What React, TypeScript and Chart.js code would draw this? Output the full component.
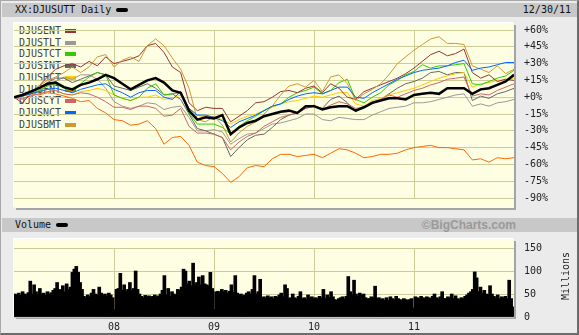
import React, { useEffect, useRef } from 'react';
import { Chart, registerables } from 'chart.js';

Chart.register(...registerables);

const FONT = '"DejaVu Sans Mono", monospace';

// ---------- axes ----------
const START_YEAR = 2007;
const END_YEAR = 2012;
const YEAR_TICKS = [2008, 2009, 2010, 2011];
const PCT_TICKS = [60, 45, 30, 15, 0, -15, -30, -45, -60, -75, -90];
const VOL_TICKS = [0, 50, 100, 150];

// ---------- series (percent change, one value per month, Jan 2007 .. Jan 2012) ----------
const DJUSUTT = [0, 2, 5, 8, 12, 13, 9, 7, 11, 13, 16, 20, 17, 12, 7, 11, 15, 17, 13, 6, 4, -12, -20, -18, -19, -16, -33, -27, -23, -21, -17, -15, -13, -12, -14, -8, -8, -11, -9, -8, -8, -12, -9, -5, -3, -1, -1, -2, 2, 3, 4, 3, 8, 8, 8, 3, 7, 8, 11, 14, 20];
const DJUSENT = [0, -5, 3, 10, 18, 25, 28, 30, 27, 32, 28, 36, 30, 32, 34, 37, 46, 48, 40, 27, 22, -5, -12, -9, -10, -10, -22, -17, -12, -5, -4, 0, 5, 6, 4, 8, 10, 4, 12, 8, 0, -2, 5, 8, 11, 14, 17, 21, 26, 32, 38, 41, 37, 39, 43, 22, 17, 20, 14, 16, 15];
const DJUSTLT = [0, -2, 1, 5, 10, 14, 18, 16, 20, 20, 16, 8, -4, -8, -10, -8, -5, -6, -11, -9, -8, -18, -30, -30, -29, -31, -42, -37, -33, -32, -28, -24, -23, -21, -19, -15, -15, -20, -21, -18, -19, -20, -20, -16, -13, -10, -9, -8, -5, -5, -4, -2, 0, 2, 3, -8, -6, -8, -5, -4, -2];
const DJUSTCT = [0, 1, 3, 6, 10, 12, 8, 4, 12, 18, 22, 20, 2, -1, -3, 0, 8, 12, 2, 3, 4, -14, -24, -24, -24, -27, -33, -26, -21, -17, -12, -8, -6, 0, 4, 6, 9, 3, 6, 13, 16, -2, -5, 0, 4, 11, 15, 20, 23, 29, 26, 28, 28, 29, 30, 12, 11, 14, 17, 19, 24];
const DJUSINT = [0, 1, 4, 8, 13, 17, 17, 13, 16, 19, 22, 20, 10, 8, 6, 9, 12, 8, 2, 3, -2, -15, -28, -30, -33, -36, -53, -45, -38, -34, -33, -27, -20, -16, -14, -10, -8, -10, -2, 1, -5, -13, -8, -4, -2, 3, 8, 12, 14, 17, 22, 23, 20, 22, 22, -3, 1, -1, 3, 5, 8];
const DJUSHCT = [0, 1, 3, 5, 7, 6, 3, 2, 5, 6, 8, 6, 2, -1, -3, 0, 0, 2, -2, -1, 2, -10, -16, -18, -17, -20, -24, -20, -17, -15, -12, -9, -6, -4, -3, -1, 1, 0, 2, 4, 4, -6, -8, -3, -1, 2, 4, 6, 8, 11, 14, 17, 19, 21, 22, 9, 12, 13, 15, 16, 17];
const DJUSFNT = [0, 2, 3, 2, 4, 3, 1, -1, -4, -3, -10, -14, -20, -21, -25, -24, -21, -28, -42, -36, -35, -43, -58, -61, -62, -68, -76, -71, -63, -61, -62, -55, -51, -51, -53, -52, -51, -54, -50, -46, -47, -50, -54, -53, -51, -51, -50, -47, -45, -44, -43, -45, -45, -46, -47, -56, -55, -58, -54, -55, -54];
const DJUSCYT = [0, -1, 1, 3, 5, 6, 3, 2, 4, 3, 0, -4, -9, -9, -11, -8, -8, -10, -17, -16, -10, -26, -32, -32, -33, -36, -47, -40, -35, -32, -26, -22, -18, -16, -14, -10, -7, -11, -7, -4, -6, -10, -9, -5, -2, 2, 0, 3, 6, 8, 11, 13, 16, 17, 18, 1, 3, 2, 6, 9, 12];
const DJUSNCT = [0, 1, 3, 5, 7, 8, 6, 4, 7, 9, 11, 12, 7, 4, 0, 4, 6, 6, 0, -2, 5, -10, -16, -16, -18, -21, -27, -22, -19, -16, -12, -8, -6, -2, 1, 3, 4, 3, 6, 9, 9, 0, -1, 4, 8, 12, 16, 19, 22, 24, 25, 26, 28, 31, 33, 24, 26, 27, 29, 31, 31];
const DJUSBMT = [0, 3, 4, 10, 15, 18, 22, 27, 22, 27, 36, 38, 27, 33, 36, 32, 46, 52, 46, 35, 25, 8, -20, -22, -17, -25, -40, -32, -26, -22, -15, -8, 2, 10, 12, 9, 15, 5, 18, 20, 12, -3, 3, 7, 12, 20, 30, 36, 42, 47, 52, 54, 48, 48, 47, 28, 25, 22, 28, 21, 25];

// ---------- volume (millions, weekly, 2007 .. 2011) ----------
const VOLUME = [
  50, 48, 52, 47, 55, 50, 49, 53, 78, 50,
  70, 55, 48, 62, 50, 52, 47, 55, 50, 53,
  58, 62, 75, 60, 58, 68, 55, 72, 60, 65,
  97, 104, 110, 97, 75, 60, 45, 42, 48, 44,
  52, 60, 50, 48, 65, 52, 47, 50, 45, 52,
  48, 42, 16, 60, 62, 95, 58, 70, 55, 60,
  75, 58, 62, 100, 60, 50, 45, 42, 47, 44,
  46, 42, 45, 48, 44, 46, 50, 58, 90, 48,
  62, 45, 55, 50, 48, 60, 58, 65, 104, 100,
  72, 78, 68, 117, 70, 75, 87, 70, 90, 72,
  70, 68, 97, 62, 16, 55, 56, 52, 60, 55,
  58, 52, 56, 70, 54, 90, 52, 48, 50, 45,
  48, 52, 55, 50, 60, 90, 50, 55, 82, 42,
  44, 40, 46, 42, 44, 40, 45, 43, 48, 52,
  44, 70, 62, 40, 42, 50, 42, 40, 45, 55,
  40, 42, 38, 48, 40, 44, 40, 42, 40, 45,
  42, 60, 40, 48, 42, 55, 44, 38, 36, 40,
  42, 44, 40, 45, 88, 55, 48, 80, 50, 46,
  52, 48, 50, 42, 40, 40, 44, 42, 67, 40,
  42, 38, 40, 36, 42, 36, 44, 40, 38, 45,
  40, 38, 36, 40, 38, 36, 38, 40, 20, 44,
  42, 40, 45, 42, 40, 44, 42, 40, 45, 50,
  42, 40, 44, 55, 40, 40, 44, 42, 50, 40,
  46, 40, 38, 42, 40, 45, 48, 52, 55, 60,
  98, 85, 55, 65, 52, 58, 50, 48, 68, 50,
  45, 42, 48, 40, 44, 42, 45, 40, 80, 40,
  22,
];

// ---------- styling table ----------
const SERIES = [
  { name: 'DJUSUTT', values: DJUSUTT, color: '#000000', width: 2.5, order: 0 },
  { name: 'DJUSENT', values: DJUSENT, color: '#993333', width: 1, order: 3 },
  { name: 'DJUSTLT', values: DJUSTLT, color: '#999999', width: 1, order: 8 },
  { name: 'DJUSTCT', values: DJUSTCT, color: '#33cc00', width: 1, order: 5 },
  { name: 'DJUSINT', values: DJUSINT, color: '#666666', width: 1, order: 7 },
  { name: 'DJUSHCT', values: DJUSHCT, color: '#ffcc00', width: 1, order: 6 },
  { name: 'DJUSFNT', values: DJUSFNT, color: '#ff6600', width: 1, order: 9 },
  { name: 'DJUSCYT', values: DJUSCYT, color: '#cc6666', width: 1, order: 4 },
  { name: 'DJUSNCT', values: DJUSNCT, color: '#0066ff', width: 1, order: 1 },
  { name: 'DJUSBMT', values: DJUSBMT, color: '#cc9933', width: 1, order: 2 },
];
const LEGEND = SERIES.slice(1);

const GRID = '#cccc99';
const PLOT_BG = '#fefee2';
const PANEL = '#ebebeb';
const BAR = '#c8c8c8';

export default function App() {
  const mainRef = useRef<HTMLCanvasElement>(null);
  const volRef = useRef<HTMLCanvasElement>(null);

  useEffect(() => {
    const yearTicks = (s: any) => {
      s.ticks = YEAR_TICKS.map((v) => ({ value: v }));
    };
    const main = new Chart(mainRef.current as HTMLCanvasElement, {
      type: 'line',
      data: {
        datasets: SERIES.map((s) => ({
          label: s.name,
          data: s.values.map((v, i) => ({ x: START_YEAR + i / 12, y: v })),
          borderColor: s.color,
          backgroundColor: s.color,
          borderWidth: s.width,
          pointRadius: 0,
          tension: 0,
          order: s.order,
        })),
      },
      options: {
        animation: false,
        responsive: false,
        maintainAspectRatio: false,
        events: [],
        layout: { padding: { top: 9, bottom: 6, left: 0, right: 0 } },
        plugins: { legend: { display: false }, tooltip: { enabled: false } },
        scales: {
          x: {
            type: 'linear',
            min: START_YEAR,
            max: END_YEAR,
            afterBuildTicks: yearTicks,
            afterFit: (s: any) => {
              s.height = 0;
            },
            ticks: { display: false },
            grid: { color: GRID, drawTicks: false },
            border: { display: false },
          },
          y: {
            position: 'right',
            min: -90,
            max: 60,
            afterBuildTicks: (s: any) => {
              s.ticks = PCT_TICKS.map((v) => ({ value: v }));
            },
            afterFit: (s: any) => {
              s.width = 65;
            },
            ticks: {
              callback: (v: any) => (Number(v) >= 0 ? '+' : '') + v + '%',
              font: { family: FONT, size: 10 },
              color: '#222',
              padding: 10,
            },
            grid: { color: GRID, drawTicks: false },
            border: { display: false },
          },
        },
      },
    } as any);

    const vol = new Chart(volRef.current as HTMLCanvasElement, {
      type: 'bar',
      data: {
        datasets: [
          {
            label: 'Volume',
            data: VOLUME.map((v, i) => ({
              x: START_YEAR + ((i + 0.5) * (END_YEAR - START_YEAR)) / VOLUME.length,
              y: v,
            })),
            backgroundColor: '#000000',
            borderWidth: 0,
            barThickness: 3,
          },
        ],
      },
      options: {
        animation: false,
        responsive: false,
        maintainAspectRatio: false,
        events: [],
        layout: { padding: { top: 7, bottom: 2, left: 0, right: 0 } },
        plugins: { legend: { display: false }, tooltip: { enabled: false } },
        scales: {
          x: {
            type: 'linear',
            min: START_YEAR,
            max: END_YEAR,
            offset: false,
            afterBuildTicks: yearTicks,
            afterFit: (s: any) => {
              s.height = 16;
            },
            ticks: {
              callback: (v: any) => String(v).slice(2),
              font: { family: FONT, size: 10 },
              color: '#222',
              padding: 4,
              maxRotation: 0,
            },
            grid: { color: GRID, drawTicks: false, offset: false },
            border: { display: false },
          },
          y: {
            position: 'right',
            min: 0,
            max: 150,
            afterBuildTicks: (s: any) => {
              s.ticks = VOL_TICKS.map((v) => ({ value: v }));
            },
            afterFit: (s: any) => {
              s.width = 65;
            },
            ticks: {
              font: { family: FONT, size: 10 },
              color: '#222',
              padding: 10,
            },
            grid: { color: GRID, drawTicks: false },
            border: { display: false },
          },
        },
      },
    } as any);

    return () => {
      main.destroy();
      vol.destroy();
    };
  }, []);

  const abs = (o: React.CSSProperties): React.CSSProperties => ({ position: 'absolute', ...o });
  const text: React.CSSProperties = { fontFamily: FONT, fontSize: 10, lineHeight: '14px', color: '#111', whiteSpace: 'nowrap' };

  return (
    <div style={{ position: 'fixed', left: 0, top: 0, width: 579, height: 335, background: PANEL, overflow: 'hidden' }}>
      {/* header bar */}
      <div style={abs({ left: 2, top: 3, width: 575, height: 14, background: BAR })} />
      <div style={abs({ ...text, left: 15, top: 3 })}>XX:DJUSUTT Daily</div>
      <div style={abs({ left: 116, top: 8, width: 12, height: 4, background: '#000', borderRadius: 2 })} />
      <div style={abs({ ...text, right: 8, top: 3 })}>12/30/11</div>

      {/* main plot background */}
      <div style={abs({ left: 14, top: 23, width: 500, height: 185, background: PLOT_BG, boxShadow: '-1px -1px 0 #ffffff, 2px 2px 0 #a4a4a4' })} />
      {LEGEND.map((s, k) => (
        <React.Fragment key={s.name}>
          <div style={abs({ ...text, color: '#444', left: 19, top: 24 + k * 11.7, lineHeight: '14px' })}>{s.name}</div>
          <div style={abs({ left: 65, top: 29 + k * 11.7, width: 11, height: 4, background: s.color })} />
        </React.Fragment>
      ))}
      <canvas ref={mainRef} width={565} height={200} style={abs({ left: 14, top: 14, width: 565, height: 200 })} />

      {/* volume header bar */}
      <div style={abs({ left: 2, top: 218, width: 575, height: 14, background: BAR })} />
      <div style={abs({ ...text, left: 15, top: 218 })}>Volume</div>
      <div style={abs({ left: 56, top: 223, width: 12, height: 4, background: '#000', borderRadius: 2 })} />
      <div style={abs({ right: 63, top: 218, fontFamily: '"Liberation Sans", Arial, sans-serif', fontWeight: 'bold', fontSize: 12, lineHeight: '14px', color: '#9a9a9a', whiteSpace: 'nowrap' })}>©BigCharts.com</div>

      {/* volume plot background */}
      <div style={abs({ left: 14, top: 239, width: 500, height: 78, background: PLOT_BG, boxShadow: '-1px -1px 0 #ffffff, 2px 2px 0 #a4a4a4' })} />
      <canvas ref={volRef} width={565} height={103} style={abs({ left: 14, top: 232, width: 565, height: 103 })} />
      <div style={abs({ ...text, left: 566, top: 276, transform: 'translate(-50%, -50%) rotate(-90deg)', color: '#222' })}>Millions</div>

      {/* outer frame */}
      <div style={abs({ left: 0, top: 0, width: 579, height: 335, boxSizing: 'border-box', borderTop: '1px solid #a8a8a8', borderLeft: '1px solid #a8a8a8', borderRight: '2px solid #6c6c6c', borderBottom: '2px solid #6c6c6c', pointerEvents: 'none' })} />
    </div>
  );
}
